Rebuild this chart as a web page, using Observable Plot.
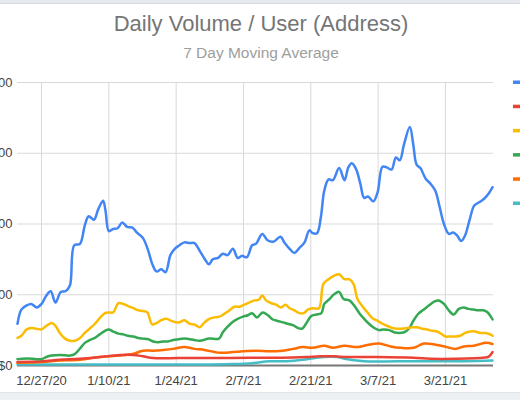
<!DOCTYPE html>
<html>
<head>
<meta charset="utf-8">
<script src="https://cdn.jsdelivr.net/npm/d3@7"></script>
<script src="https://cdn.jsdelivr.net/npm/@observablehq/plot@0.6"></script>
<style>
html, body { margin: 0; padding: 0; background: #fff; }
#wrap { position: relative; width: 520px; height: 400px; overflow: hidden; background: #fff; font-family: Arial, "Liberation Sans", sans-serif; }
#topband { position: absolute; left: 0; top: 0; width: 520px; height: 3px; background: #e6eaee; border-bottom: 1px solid #d6dadf; }
#botband { position: absolute; left: 0; top: 392px; width: 520px; height: 8px; background: #eef1f4; border-top: 1px solid #e0e3e7; }
#chart { position: absolute; left: -30px; top: 0; }
#overlay { position: absolute; left: 0; top: 0; }
</style>
</head>
<body>
<div id="wrap">
  <div id="chart"></div>
  <svg id="overlay" width="520" height="400"></svg>
  <div id="topband"></div>
  <div id="botband"></div>
</div>
<script>
// ---- data (day offset from 12/22/20, value in $) ----
const startDate = "2020-12-22";
const endDay = 99;
const title = "Daily Volume / User (Address)";
const subtitle = "7 Day Moving Average";
const yTicks = [0, 100, 200, 300, 400];
const xTickDates = ["2020-12-27", "2021-01-10", "2021-01-24", "2021-02-07", "2021-02-21", "2021-03-07", "2021-03-21"];
const seriesNames = ["Series 1", "Series 2", "Series 3", "Series 4", "Series 5", "Series 6"];
const seriesColors = ["#4285F4", "#EA4335", "#FBBC04", "#34A853", "#FF6D01", "#46BDC6"];

const blue = [[0,59],[0.8,79],[1.9,85],[2.9,87],[4,82],[5,87],[6,99],[6.9,105],[7.9,89],[9,104],[10,105],[10.9,113],[11.8,170],[13,172],[14,198],[14.8,211],[15.9,206],[16.8,221],[17.8,233],[18.3,219],[19,190],[19.9,193],[20.8,194],[21.8,202],[22.8,196],[23.9,195],[24.8,188],[26.1,180],[27.2,162],[28,144],[28.9,133],[29.9,136],[30.8,132],[31.8,156],[32.7,165],[33.7,170],[34.7,174],[35.8,173],[36.8,173],[37.9,162],[38.9,151],[39.8,143],[40.6,150],[41.7,152],[42.7,158],[43.7,156],[44.8,165],[45.8,152],[46.7,155],[47.7,153],[48.8,170],[49.6,172],[50.9,186],[52,177],[53.2,175],[54.7,182],[55.5,174],[56.6,165],[57.6,159],[58.6,166],[59.7,174],[60.7,191],[61.4,187],[62.3,187],[63.1,210],[63.8,247],[64.7,263],[65.6,262],[66.9,279],[68,262],[68.8,280],[69.5,286],[70.4,278],[71.3,257],[72.1,237],[72.9,239],[74,232],[74.9,245],[75.9,281],[76.8,280],[77.8,277],[78.7,294],[79.5,290],[80.4,313],[81.6,337],[82.3,313],[83,284],[83.8,279],[84.9,264],[85.9,257],[86.9,247],[87.8,224],[88.7,200],[89.7,186],[90.6,188],[91.4,184],[92.3,176],[93.1,184],[94,205],[95,226],[96.1,231],[97.1,236],[98,243],[98.8,252]];
const red = [[0,5],[5,6],[8.8,8],[13,9.5],[17.1,12],[21.3,15],[24.1,15],[26.1,13],[28.2,10.5],[33.4,10.5],[40,10.5],[48,11],[55,11],[60,12],[63,13],[66,13],[68.3,12],[74.9,12],[82.4,11],[85.9,9.5],[91.4,9.5],[96.9,11],[98,12.5],[98.8,19]];
const yellow = [[0,39],[0.8,42],[1.9,51],[2.9,53],[4,52],[5,51],[6,56],[7.1,60],[7.9,56],[8.8,46],[9.9,38],[10.9,35],[11.9,35],[13,39],[14,46],[15,52],[16.1,59],[17.1,67],[18.2,74],[19,75],[19.9,75],[21,88],[22,87],[23,84],[24.1,81],[25.1,78],[26.1,77],[27,75],[28,58],[28.9,60],[29.9,64],[31,66],[32,63],[33,61],[33.7,61],[34.7,64],[35.8,59],[36.8,58],[37.9,54],[38.9,61],[39.9,66],[41,68],[42,69],[43,73],[44.1,78],[45.1,83],[46.2,83],[47.2,86],[48.2,89],[49.3,92],[50.2,93],[50.9,99],[51.7,92],[52.8,88],[53.8,86],[54.8,82],[55.7,86],[56.6,81],[57.6,78],[58.6,74],[59.5,74],[60.4,79],[61.4,81],[62.7,81],[63.6,115],[64.7,122],[65.9,127],[66.9,129],[68,122],[69,122],[69.9,115],[70.7,94],[71.8,83],[72.8,75],[73.8,67],[74.9,63],[75.9,59],[76.9,56],[78,53],[79,52],[80,52],[81.1,53],[82.1,54],[83.1,54],[84.2,52],[85.2,51],[86.2,49],[87.3,48],[88.3,44],[89,41],[90,41],[91.1,41],[92.1,42],[93.1,46],[94.2,48],[95.2,48],[96.2,46],[97.3,46],[98.3,44],[98.8,42]];
const green = [[0,9],[1.9,10],[4,9],[5,9],[6,12],[7.1,14],[8.8,15],[10.9,14],[11.9,16],[13,24],[14,32],[15,36],[16.1,39],[17.1,44],[18.2,49],[19,51],[19.9,48],[21,45],[22,44],[23,42],[24.1,41],[25.1,39],[26.1,38],[27.2,37],[28.2,34],[29.3,33],[30.3,34],[31.3,34],[32.4,36],[33.4,37],[34.7,38],[36.8,36],[37.9,35],[39.9,38],[41.9,38],[42.7,47],[43.7,55],[44.8,62],[45.8,66],[46.9,69],[47.9,71],[48.8,74],[49.8,68],[51,75],[52.1,71],[53.1,65],[54.1,63],[55.2,61],[56.2,59],[57.3,57],[58.3,53],[59.2,52],[60,59],[61.1,70],[62.1,72],[63.2,74],[63.8,87],[64.9,94],[65.9,101],[66.9,104],[67.8,94],[69,92],[70,85],[71.1,74],[72.1,66],[73.1,59],[74.2,53],[75.2,50],[76.2,51],[77.3,50],[78.3,47],[79.3,46],[80.4,47],[81.4,52],[82.4,64],[83.5,74],[84.5,79],[85.6,85],[86.6,90],[87.6,92],[88.7,87],[89.7,78],[90.7,72],[91.8,80],[92.8,82],[93.8,80],[94.9,79],[95.9,78],[96.9,78],[97.8,75],[98.8,65]];
const orange = [[0,4],[5,5],[8.8,7],[13,8],[17.1,12],[21.3,14],[24.1,16.5],[26.1,21],[28.2,21],[30.3,22],[32.4,23.5],[34.7,26],[36.8,23.5],[38.9,22],[42,18],[44.8,19],[46.9,20],[49.6,21],[52.4,20],[55.2,21],[57.3,23.5],[59.3,26],[61.4,25],[63.8,28],[65.6,25],[68,28],[70.7,26],[72.8,29],[75.2,31],[77.6,27],[79.7,25],[82.4,25],[84.5,31],[87.3,29],[89.3,26],[91.1,23.5],[92.8,27],[94.9,28],[97.3,32],[98.8,30.5]];
const teal = [[0,1.5],[10,1.5],[20,1.5],[30,1.5],[40,1.5],[45,2],[48.8,3.3],[52.4,6],[55.9,6],[59.3,8],[62.1,11],[64.9,12.5],[66.6,12],[68,9.5],[72.1,6],[79,6],[85.9,6],[92.8,6],[98.8,7]];

// ---- build ----
const seriesData = [blue, red, yellow, green, orange, teal];
const t0 = new Date(startDate + "T00:00:00Z");
const toDate = d => new Date(t0.getTime() + d * 864e5);
const xTicks = xTickDates.map(s => new Date(s + "T00:00:00Z"));
const rows = seriesData.flatMap((pts, i) => pts.map(([d, v]) => ({name: seriesNames[i], date: toDate(d), value: v})));

// Draw order: teal, orange, red, green, yellow, blue (blue on top)
const drawOrder = [5, 4, 1, 3, 2, 0];

const chart = Plot.plot({
  width: 550,
  height: 400,
  marginLeft: 47,
  marginRight: 27,
  marginTop: 82,
  marginBottom: 35,
  style: {fontFamily: "Arial, 'Liberation Sans', sans-serif", fontSize: "13px", color: "#444", background: "transparent", overflow: "visible"},
  x: {type: "utc", domain: [t0, toDate(endDay)], label: null},
  y: {domain: [0, 400], label: null},
  color: {domain: seriesNames, range: seriesColors},
  marks: [
    Plot.gridY(yTicks, {stroke: "#d9d9d9", strokeOpacity: 1}),
    Plot.gridX(xTicks, {stroke: "#d9d9d9", strokeOpacity: 1}),
    Plot.ruleY([0], {stroke: "#777", strokeWidth: 2}),
    Plot.axisY(yTicks, {tickSize: 0, tickPadding: 5, tickFormat: d => "$" + d, label: null, fill: "#444"}),
    Plot.axisX(xTicks, {tickSize: 0, tickPadding: 10, tickFormat: d3.utcFormat("%-m/%-d/%y"), label: null, fill: "#444"}),
    ...drawOrder.map(i => Plot.line(rows.filter(r => r.name === seriesNames[i]), {
      x: "date", y: "value", stroke: "name", strokeWidth: 2.5, curve: "catmull-rom"
    }))
  ]
});
document.getElementById("chart").appendChild(chart);

// ---- title, subtitle, legend swatches ----
const ov = d3.select("#overlay");
ov.append("text").attr("x", 261).attr("y", 31).attr("text-anchor", "middle")
  .attr("font-family", "Arial, 'Liberation Sans', sans-serif").attr("font-size", 22).attr("fill", "#757575").text(title);
ov.append("text").attr("x", 261).attr("y", 58).attr("text-anchor", "middle")
  .attr("font-family", "Arial, 'Liberation Sans', sans-serif").attr("font-size", 15.5).attr("fill", "#9e9e9e").text(subtitle);
seriesColors.forEach((c, i) => {
  ov.append("rect").attr("x", 513).attr("y", 80.5 + i * 24.2).attr("width", 14).attr("height", 3.5).attr("fill", c);
});
</script>
</body>
</html>
